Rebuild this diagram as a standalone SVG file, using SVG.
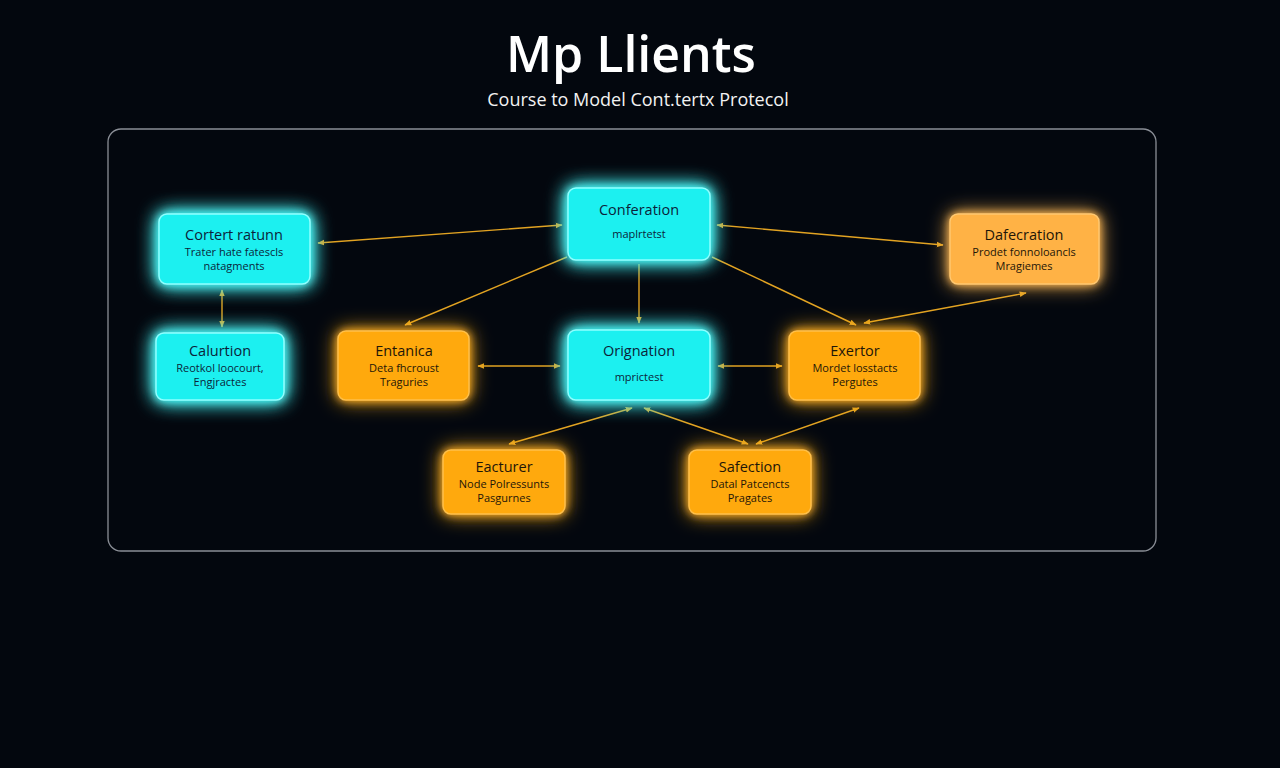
<svg xmlns="http://www.w3.org/2000/svg" width="1280" height="768" viewBox="0 0 1280 768">
<defs>
<filter id="glowC" x="-50%" y="-50%" width="200%" height="200%">
<feGaussianBlur in="SourceGraphic" stdDeviation="10" result="b"/>
<feGaussianBlur in="SourceGraphic" stdDeviation="4" result="b2"/>
<feMerge><feMergeNode in="b"/><feMergeNode in="b"/><feMergeNode in="b2"/><feMergeNode in="SourceGraphic"/></feMerge>
</filter>
<filter id="glowO" x="-50%" y="-50%" width="200%" height="200%">
<feGaussianBlur in="SourceGraphic" stdDeviation="10" result="b"/>
<feGaussianBlur in="SourceGraphic" stdDeviation="4" result="b2"/>
<feMerge><feMergeNode in="b"/><feMergeNode in="b2"/><feMergeNode in="SourceGraphic"/></feMerge>
</filter>
<marker id="ah" viewBox="0 0 10 10" refX="9" refY="5" markerWidth="7" markerHeight="7" orient="auto-start-reverse" markerUnits="userSpaceOnUse">
<path d="M0,1 L10,5 L0,9 z" fill="#E2A322"/>
</marker>
</defs>
<style>
.cy{fill:#1CF0F0;stroke:#8FFFFF;stroke-width:1.5;filter:url(#glowC)}
.or{fill:#FFA90C;stroke:#FFC04A;stroke-width:1.5;filter:url(#glowO)}
.or2{fill:#FFB244;stroke:#FFC870;stroke-width:1.5;filter:url(#glowO)}
.t{font-family:"Open Sans","Liberation Sans",sans-serif;text-anchor:middle}
.h{font-size:14.5px}
.s{font-size:11px}
.dc{fill:#0B1F3A}
.do{fill:#1E1608}
.e{stroke:#E2A322;stroke-width:1.4;fill:none}
</style>
<rect width="1280" height="768" fill="#03070E"/>
<text x="631" y="72" class="t" font-size="50" fill="#FFFFFF" font-weight="600">Mp Llients</text>
<text x="638" y="106" class="t" font-size="18" fill="#F2F2F2">Course to Model Cont.tertx Protecol</text>
<rect x="108" y="129" width="1048" height="422" rx="13" fill="none" stroke="#8A8E96" stroke-width="1.3"/>

<g id="connectors">
<line class="e" x1="318" y1="243" x2="562" y2="225" marker-start="url(#ah)" marker-end="url(#ah)"/>
<line class="e" x1="717" y1="225" x2="943" y2="245" marker-start="url(#ah)" marker-end="url(#ah)"/>
<line class="e" x1="222" y1="290" x2="222" y2="327" marker-start="url(#ah)" marker-end="url(#ah)"/>
<line class="e" x1="567" y1="257" x2="405" y2="325" marker-end="url(#ah)"/>
<line class="e" x1="639" y1="264" x2="639" y2="323" marker-end="url(#ah)"/>
<line class="e" x1="712" y1="257" x2="856" y2="325" marker-end="url(#ah)"/>
<line class="e" x1="1026" y1="293" x2="864" y2="323" marker-start="url(#ah)" marker-end="url(#ah)"/>
<line class="e" x1="478" y1="366" x2="560" y2="366" marker-start="url(#ah)" marker-end="url(#ah)"/>
<line class="e" x1="718" y1="366" x2="782" y2="366" marker-start="url(#ah)" marker-end="url(#ah)"/>
<line class="e" x1="632" y1="408" x2="509" y2="444" marker-start="url(#ah)" marker-end="url(#ah)"/>
<line class="e" x1="644" y1="408" x2="748" y2="444" marker-start="url(#ah)" marker-end="url(#ah)"/>
<line class="e" x1="859" y1="408" x2="756" y2="444" marker-start="url(#ah)" marker-end="url(#ah)"/>
</g>

<g id="node-cortert">
<rect class="cy" x="159" y="214" width="151" height="70" rx="8"/>
<text class="t h dc" x="234" y="240">Cortert ratunn</text>
<text class="t s dc" x="234" y="256">Trater hate fatescls</text>
<text class="t s dc" x="234" y="270">natagments</text>
</g>
<g id="node-conferation">
<rect class="cy" x="568" y="188" width="142" height="72" rx="8"/>
<text class="t h dc" x="639" y="215">Conferation</text>
<text class="t s dc" x="639" y="238">maplrtetst</text>
</g>
<g id="node-dafecration">
<rect class="or2" x="950" y="214" width="149" height="70" rx="8"/>
<text class="t h do" x="1024" y="240">Dafecration</text>
<text class="t s do" x="1024" y="256">Prodet fonnoloancls</text>
<text class="t s do" x="1024" y="270">Mragiemes</text>
</g>
<g id="node-calurtion">
<rect class="cy" x="156" y="333" width="128" height="67" rx="8"/>
<text class="t h dc" x="220" y="356">Calurtion</text>
<text class="t s dc" x="220" y="372">Reotkol loocourt,</text>
<text class="t s dc" x="220" y="386">Engjractes</text>
</g>
<g id="node-entanica">
<rect class="or" x="338" y="331" width="131" height="69" rx="8"/>
<text class="t h do" x="404" y="356">Entanica</text>
<text class="t s do" x="404" y="372">Deta fhcroust</text>
<text class="t s do" x="404" y="386">Traguries</text>
</g>
<g id="node-orignation">
<rect class="cy" x="568" y="330" width="142" height="70" rx="8"/>
<text class="t h dc" x="639" y="356">Orignation</text>
<text class="t s dc" x="639" y="381">mprictest</text>
</g>
<g id="node-exertor">
<rect class="or" x="789" y="331" width="131" height="69" rx="8"/>
<text class="t h do" x="855" y="356">Exertor</text>
<text class="t s do" x="855" y="372">Mordet losstacts</text>
<text class="t s do" x="855" y="386">Pergutes</text>
</g>
<g id="node-eacturer">
<rect class="or" x="443" y="450" width="122" height="64" rx="8"/>
<text class="t h do" x="504" y="472">Eacturer</text>
<text class="t s do" x="504" y="488">Node Polressunts</text>
<text class="t s do" x="504" y="502">Pasgurnes</text>
</g>
<g id="node-safection">
<rect class="or" x="689" y="450" width="122" height="64" rx="8"/>
<text class="t h do" x="750" y="472">Safection</text>
<text class="t s do" x="750" y="488">Datal Patcencts</text>
<text class="t s do" x="750" y="502">Pragates</text>
</g>
</svg>
